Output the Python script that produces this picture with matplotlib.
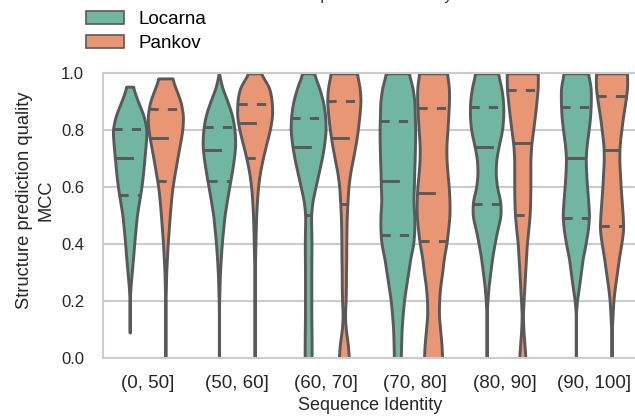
import numpy as np
import matplotlib
matplotlib.use("Agg")
import matplotlib.pyplot as plt
from matplotlib.patches import Patch

plt.rcParams["font.family"] = ["Liberation Sans", "DejaVu Sans"]

# ---------------- data ----------------
categories = ["(0, 50]", "(50, 60]", "(60, 70]", "(70, 80]", "(80, 90]", "(90, 100]"]
hue_names = ["Locarna", "Pankov"]
yticks = [0.0, 0.2, 0.4, 0.6, 0.8, 1.0]

# MCC levels at which the violin densities were read
levels = [0.00, 0.05, 0.10, 0.15, 0.20, 0.25, 0.30, 0.35, 0.40, 0.45, 0.50,
          0.55, 0.60, 0.65, 0.70, 0.75, 0.80, 0.85, 0.90, 0.95, 1.00]

# relative kernel density of each violin at those levels
locarna_density = [
    [0, 0, 0, 0, 0, 0.8, 2.0, 3.2, 4.3, 5.5, 6.8, 9.0, 11.2, 12.8, 14.0, 15.3, 16.3, 13.5, 8.0, 3.0, 2.5],
    [0, 0, 0, 0, 0.2, 0.6, 1.0, 1.8, 2.7, 4.0, 5.3, 7.5, 9.8, 12.2, 14.3, 15.7, 15.0, 12.8, 8.3, 3.0, 0],
    [3.3, 3.3, 3.2, 3.0, 3.0, 3.0, 3.0, 3.1, 3.2, 3.0, 2.7, 4.0, 7.0, 10.0, 13.0, 15.3, 16.8, 16.3, 14.3, 10.5, 5.3],
    [3.3, 3.6, 4.0, 5.0, 6.2, 8.2, 10.3, 12.3, 15.2, 16.2, 16.2, 15.2, 15.7, 16.0, 16.5, 16.8, 17.0, 16.6, 16.3, 14.5, 10.7],
    [0, 0, 0, 0, 0.8, 1.8, 3.5, 5.2, 7.5, 10.2, 13.5, 13.2, 9.8, 8.5, 9.2, 11.8, 14.8, 16.0, 15.8, 14.0, 10.7],
    [0, 0, 0, 0, 1.0, 3.0, 4.8, 6.5, 9.3, 11.5, 12.7, 11.8, 10.7, 9.8, 9.3, 10.3, 12.2, 13.7, 14.3, 14.3, 11.5],
]
pankov_density = [
    [0, 0, 0, 0, 0.2, 0.5, 0.8, 1.5, 2.2, 3.2, 4.2, 5.3, 6.7, 9.0, 11.3, 13.8, 16.2, 17.0, 14.7, 9.5, 4.5],
    [0, 0, 0, 0, 0, 0, 0.2, 0.5, 0.8, 1.1, 1.5, 2.2, 3.2, 5.0, 7.7, 11.0, 14.5, 16.8, 16.5, 14.2, 5.5],
    [4.8, 3.8, 1.8, 1.0, 1.7, 2.0, 2.0, 2.3, 2.3, 2.5, 2.8, 3.5, 4.3, 6.0, 8.7, 11.2, 13.3, 14.8, 16.0, 15.2, 12.3],
    [8.7, 8.0, 6.7, 5.5, 5.7, 6.7, 8.7, 10.2, 12.7, 14.3, 15.7, 15.7, 15.0, 13.7, 12.7, 12.7, 13.7, 14.5, 15.2, 15.2, 13.2],
    [3.0, 2.0, 1.0, 0.5, 1.2, 2.0, 2.7, 3.5, 4.3, 5.7, 7.0, 7.5, 7.7, 7.7, 7.7, 8.5, 10.3, 12.0, 13.5, 14.8, 14.8],
    [0, 0, 0.3, 1.0, 1.7, 3.2, 5.2, 7.0, 9.3, 11.2, 10.7, 9.7, 8.7, 8.0, 7.3, 7.7, 9.3, 11.0, 13.2, 15.0, 14.8],
]

locarna_min = [0.09, 0.0, 0.0, 0.0, 0.0, 0.0]
locarna_max = [0.953, 1.0, 1.0, 1.0, 1.0, 1.0]
pankov_min = [0.0, 0.0, 0.0, 0.0, 0.0, 0.0]
pankov_max = [0.982, 1.0, 1.0, 1.0, 1.0, 1.0]

locarna_q25 = [0.571, 0.621, 0.502, 0.433, 0.542, 0.492]
locarna_med = [0.703, 0.732, 0.742, 0.623, 0.742, 0.703]
locarna_q75 = [0.803, 0.811, 0.843, 0.833, 0.882, 0.882]
pankov_q25 = [0.623, 0.703, 0.541, 0.410, 0.502, 0.462]
pankov_med = [0.773, 0.824, 0.773, 0.580, 0.754, 0.732]
pankov_q75 = [0.873, 0.893, 0.902, 0.879, 0.941, 0.920]

# ---------------- style ----------------
W, H = 635, 418
colors = ["#71b6a0", "#e99675"]
gray = "#595959"
text_color = "#262626"
grid_color = "#cccccc"
lw = 2.1

fig = plt.figure(figsize=(W / 100, H / 100), dpi=100)
ax_l, ax_r, ax_b, ax_t = 102.9, 638.3, 358.0, 73.3
ax = fig.add_axes([ax_l / W, 1 - ax_b / H, (ax_r - ax_l) / W, (ax_b - ax_t) / H])

lev = np.array(levels)
gmax = max(max(r) for r in locarna_density + pankov_density)
dwidth = 0.2


def smooth_profile(lo, hi, dens):
    d = np.array(dens, dtype=float) / gmax * dwidth
    ys = np.linspace(lo, hi, 200)
    ws = np.interp(ys, lev, d)
    sig = 0.014 / max(ys[1] - ys[0], 1e-9)
    k = np.arange(-int(3 * sig) - 1, int(3 * sig) + 2)
    ker = np.exp(-0.5 * (k / sig) ** 2)
    ker /= ker.sum()
    pad = len(k) // 2
    wp = np.pad(ws, pad, mode="edge")
    wsm = np.convolve(wp, ker, mode="same")[pad:-pad]
    return ys, np.clip(wsm, 0, None)


groups = [
    (locarna_density, locarna_min, locarna_max, locarna_q25, locarna_med, locarna_q75, -0.2),
    (pankov_density, pankov_min, pankov_max, pankov_q25, pankov_med, pankov_q75, 0.2),
]
for j, (dens, mins, maxs, q25, med, q75, off) in enumerate(groups):
    for i in range(len(categories)):
        c = i + off
        ys, ws = smooth_profile(mins[i], maxs[i], dens[i])
        ax.fill_betweenx(ys, c - ws, c + ws, facecolor=colors[j], edgecolor=gray,
                         linewidth=lw, zorder=2)
        for val, dash in ((q25[i], [1.5 * lw] * 2), (med[i], [3 * lw] * 2), (q75[i], [1.5 * lw] * 2)):
            w = np.interp(val, ys, ws) * 0.99
            ax.plot([c - w, c + w], [val, val], color=gray, lw=lw, dashes=dash,
                    dash_capstyle="butt", solid_capstyle="butt", zorder=3)

ax.set_xlim(-0.5, len(categories) - 0.5)
ax.set_ylim(0, 1)
ax.set_xticks(range(len(categories)))
ax.set_xticklabels(categories)
ax.set_yticks(yticks)
ax.set_yticklabels([f"{t:.1f}" for t in yticks])
ax.tick_params(axis="x", length=0, pad=12, labelsize=13.5, labelcolor=text_color)
ax.tick_params(axis="y", length=0, pad=13.5, labelsize=12, labelcolor=text_color)
ax.yaxis.grid(True, color=grid_color, linewidth=1.5, zorder=0)
ax.xaxis.grid(False)
ax.set_axisbelow(True)
for s in ax.spines.values():
    s.set_color(grid_color)
    s.set_linewidth(1.5)

fig.text(370.6 / W, 1 - 405.5 / H, "Sequence Identity", ha="center", va="center",
         fontsize=13, color=text_color)
fig.text(25 / W, 1 - 200 / H, "Structure prediction quality", ha="center",
         va="center", rotation=90, fontsize=13.2, color=text_color)
fig.text(45.5 / W, 1 - 200 / H, "MCC", ha="center",
         va="center", rotation=90, fontsize=13.2, color=text_color)

handles = [Patch(facecolor=colors[k], edgecolor=gray, linewidth=1.2) for k in range(2)]
fig.legend(handles, hue_names, loc="upper left", bbox_to_anchor=(86 / W, 1 - 10.5 / H),
           frameon=False, borderpad=0, borderaxespad=0, fontsize=13.5,
           labelspacing=0.4, handletextpad=0.8, labelcolor="black")

fig.text(254 / W, 1 + 0.3 / H, "Structure prediction accuracy", ha="left",
         va="baseline", fontsize=11, color=text_color)

fig.savefig("out.png", dpi=100)
